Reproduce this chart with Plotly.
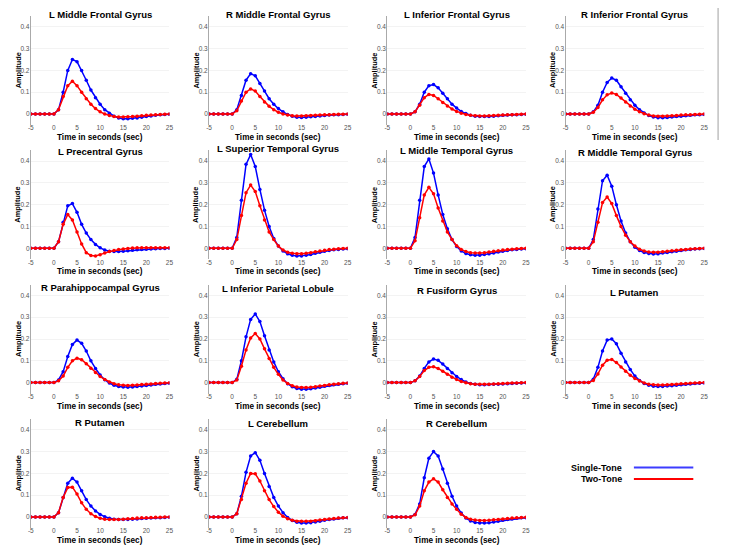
import plotly.graph_objects as go
from plotly.subplots import make_subplots

# time axis (s) and tick labels
time_sec = [-5, -4, -3, -2, -1, 0, 1, 2, 3, 4, 5, 6, 7, 8, 9, 10, 11, 12, 13, 14, 15,
            16, 17, 18, 19, 20, 21, 22, 23, 24, 25]
x_tick_vals = [-5, 0, 5, 10, 15, 20, 25]
x_tick_text = ["-5", "0", "5", "10", "15", "20", "25"]
y_tick_vals = [0, 0.1, 0.2, 0.3, 0.4]
y_tick_text = ["0", "0.1", "0.2", "0.3", "0.4"]

# estimated HRF amplitudes, single-tone vs two-tone
l_mfg_single = [0, 0, 0, 0, 0, 0, 0.02, 0.10, 0.20, 0.25, 0.24, 0.20, 0.155, 0.11, 0.075, 0.045,
                0.02, 0.003, -0.01, -0.018, -0.022, -0.022, -0.02, -0.018, -0.015, -0.012,
                -0.009, -0.006, -0.004, -0.002, -0.001]
l_mfg_two = [0, 0, 0, 0, 0, 0, 0.02, 0.08, 0.13, 0.15, 0.13, 0.10, 0.07, 0.045, 0.025, 0.01,
             0.0, -0.007, -0.012, -0.014, -0.014, -0.013, -0.012, -0.01, -0.008, -0.006,
             -0.005, -0.003, -0.002, -0.001, 0]

r_mfg_single = [0, 0, 0, 0, 0, 0, 0.02, 0.085, 0.155, 0.185, 0.175, 0.14, 0.105, 0.07, 0.045,
                0.025, 0.01, -0.002, -0.01, -0.015, -0.016, -0.015, -0.013, -0.011, -0.009,
                -0.007, -0.005, -0.004, -0.003, -0.002, -0.001]
r_mfg_two = [0, 0, 0, 0, 0, 0, 0.015, 0.06, 0.10, 0.115, 0.105, 0.08, 0.055, 0.035, 0.02,
             0.008, 0.0, -0.005, -0.008, -0.009, -0.009, -0.008, -0.007, -0.006, -0.005,
             -0.004, -0.003, -0.002, -0.001, -0.001, 0]

l_ifg_single = [0, 0, 0, 0, 0, 0, 0.01, 0.045, 0.10, 0.13, 0.135, 0.12, 0.095, 0.07, 0.045,
                0.027, 0.012, 0.002, -0.006, -0.01, -0.012, -0.012, -0.011, -0.01, -0.008,
                -0.006, -0.005, -0.004, -0.003, -0.002, -0.001]
l_ifg_two = [0, 0, 0, 0, 0, 0, 0.01, 0.04, 0.075, 0.09, 0.085, 0.07, 0.053, 0.037, 0.023,
             0.012, 0.004, -0.002, -0.006, -0.008, -0.009, -0.009, -0.008, -0.007, -0.006,
             -0.005, -0.004, -0.003, -0.002, -0.001, 0]

r_ifg_single = [0, 0, 0, 0, 0, 0, 0.01, 0.04, 0.10, 0.145, 0.165, 0.155, 0.125, 0.095, 0.065,
                0.04, 0.02, 0.005, -0.007, -0.014, -0.017, -0.017, -0.016, -0.014, -0.012,
                -0.01, -0.008, -0.006, -0.004, -0.003, -0.002]
r_ifg_two = [0, 0, 0, 0, 0, 0, 0.008, 0.03, 0.065, 0.088, 0.096, 0.09, 0.073, 0.055, 0.037,
             0.022, 0.01, 0.001, -0.005, -0.009, -0.01, -0.01, -0.009, -0.008, -0.007,
             -0.005, -0.004, -0.003, -0.002, -0.001, 0]

l_precg_single = [0, 0, 0, 0, 0, 0, 0.03, 0.12, 0.195, 0.205, 0.165, 0.11, 0.07, 0.04, 0.018,
                  0.002, -0.008, -0.013, -0.015, -0.015, -0.013, -0.011, -0.009, -0.007,
                  -0.005, -0.004, -0.003, -0.002, -0.001, -0.001, 0]
l_precg_two = [0, 0, 0, 0, 0, 0, 0.03, 0.11, 0.155, 0.13, 0.075, 0.02, -0.02, -0.033, -0.035,
               -0.03, -0.022, -0.015, -0.01, -0.006, -0.003, -0.001, 0.001, 0.002, 0.003,
               0.003, 0.003, 0.003, 0.002, 0.002, 0.002]

l_stg_single = [0, 0, 0, 0, 0, 0, 0.05, 0.22, 0.385, 0.43, 0.375, 0.27, 0.175, 0.10, 0.045,
                0.01, -0.012, -0.025, -0.032, -0.035, -0.035, -0.032, -0.028, -0.023, -0.018,
                -0.014, -0.01, -0.007, -0.005, -0.003, -0.002]
l_stg_two = [0, 0, 0, 0, 0, 0, 0.04, 0.15, 0.255, 0.29, 0.26, 0.195, 0.13, 0.075, 0.04, 0.01,
             -0.008, -0.018, -0.023, -0.025, -0.025, -0.023, -0.02, -0.016, -0.012, -0.009,
             -0.006, -0.004, -0.002, -0.001, 0]

l_mtg_single = [0, 0, 0, 0, 0, 0, 0.05, 0.22, 0.375, 0.41, 0.345, 0.245, 0.155, 0.09, 0.04,
                0.008, -0.012, -0.024, -0.03, -0.032, -0.032, -0.029, -0.025, -0.021, -0.017,
                -0.013, -0.01, -0.007, -0.005, -0.003, -0.002]
l_mtg_two = [0, 0, 0, 0, 0, 0, 0.035, 0.14, 0.245, 0.28, 0.25, 0.185, 0.125, 0.075, 0.04,
             0.012, -0.005, -0.015, -0.02, -0.022, -0.022, -0.02, -0.017, -0.014, -0.011,
             -0.008, -0.006, -0.004, -0.002, -0.001, 0]

r_mtg_single = [0, 0, 0, 0, 0, 0, 0.04, 0.18, 0.31, 0.335, 0.285, 0.20, 0.125, 0.07, 0.03,
                0.005, -0.01, -0.019, -0.024, -0.026, -0.025, -0.022, -0.019, -0.016, -0.013,
                -0.01, -0.007, -0.005, -0.003, -0.002, -0.001]
r_mtg_two = [0, 0, 0, 0, 0, 0, 0.03, 0.12, 0.21, 0.235, 0.205, 0.15, 0.10, 0.06, 0.03, 0.01,
             -0.004, -0.012, -0.017, -0.018, -0.018, -0.016, -0.014, -0.011, -0.009, -0.007,
             -0.005, -0.003, -0.002, -0.001, 0]

r_phg_single = [0, 0, 0, 0, 0, 0, 0.012, 0.05, 0.12, 0.175, 0.195, 0.18, 0.145, 0.10, 0.065,
                0.035, 0.013, -0.002, -0.012, -0.018, -0.02, -0.021, -0.02, -0.018, -0.016,
                -0.013, -0.011, -0.008, -0.006, -0.004, -0.003]
r_phg_two = [0, 0, 0, 0, 0, 0, 0.008, 0.03, 0.07, 0.10, 0.112, 0.105, 0.087, 0.066, 0.046,
             0.028, 0.014, 0.003, -0.005, -0.01, -0.012, -0.013, -0.012, -0.011, -0.009,
             -0.007, -0.006, -0.004, -0.003, -0.002, -0.001]

l_ipl_single = [0, 0, 0, 0, 0, 0, 0.015, 0.10, 0.21, 0.29, 0.315, 0.28, 0.215, 0.15, 0.095,
                0.05, 0.018, -0.005, -0.019, -0.027, -0.03, -0.03, -0.028, -0.025, -0.021,
                -0.017, -0.013, -0.01, -0.007, -0.005, -0.003]
l_ipl_two = [0, 0, 0, 0, 0, 0, 0.012, 0.075, 0.15, 0.205, 0.225, 0.20, 0.155, 0.11, 0.07,
             0.038, 0.012, -0.004, -0.014, -0.02, -0.022, -0.022, -0.021, -0.019, -0.016,
             -0.013, -0.01, -0.007, -0.005, -0.003, -0.002]

r_fg_single = [0, 0, 0, 0, 0, 0, 0.008, 0.03, 0.065, 0.095, 0.108, 0.102, 0.085, 0.065, 0.045,
               0.028, 0.014, 0.003, -0.004, -0.008, -0.01, -0.01, -0.009, -0.008, -0.007,
               -0.006, -0.005, -0.004, -0.003, -0.002, -0.001]
r_fg_two = [0, 0, 0, 0, 0, 0, 0.008, 0.028, 0.055, 0.07, 0.073, 0.065, 0.052, 0.038, 0.025,
            0.014, 0.005, -0.001, -0.005, -0.007, -0.008, -0.008, -0.007, -0.006, -0.005,
            -0.004, -0.003, -0.002, -0.002, -0.001, 0]

l_put_single = [0, 0, 0, 0, 0, 0, 0.015, 0.07, 0.145, 0.195, 0.20, 0.178, 0.135, 0.095, 0.06,
                0.03, 0.01, -0.004, -0.012, -0.017, -0.018, -0.018, -0.016, -0.014, -0.012,
                -0.01, -0.008, -0.006, -0.004, -0.003, -0.002]
l_put_two = [0, 0, 0, 0, 0, 0, 0.01, 0.04, 0.08, 0.103, 0.106, 0.092, 0.072, 0.052, 0.034,
             0.019, 0.007, -0.002, -0.007, -0.01, -0.011, -0.011, -0.01, -0.009, -0.007,
             -0.005, -0.004, -0.003, -0.002, -0.001, 0]

r_put_single = [0, 0, 0, 0, 0, 0, 0.02, 0.09, 0.155, 0.178, 0.16, 0.12, 0.08, 0.05, 0.028,
                0.012, 0.001, -0.006, -0.01, -0.012, -0.012, -0.011, -0.01, -0.009, -0.007,
                -0.006, -0.005, -0.004, -0.003, -0.002, -0.001]
r_put_two = [0, 0, 0, 0, 0, 0, 0.02, 0.09, 0.135, 0.137, 0.105, 0.065, 0.035, 0.015, 0.002,
             -0.006, -0.01, -0.012, -0.012, -0.011, -0.01, -0.008, -0.007, -0.005, -0.004,
             -0.003, -0.002, -0.001, -0.001, 0, 0]

l_cb_single = [0, 0, 0, 0, 0, 0, 0.015, 0.095, 0.205, 0.28, 0.295, 0.26, 0.20, 0.14, 0.09,
               0.05, 0.02, -0.002, -0.016, -0.024, -0.028, -0.028, -0.026, -0.023, -0.019,
               -0.015, -0.012, -0.009, -0.006, -0.004, -0.003]
l_cb_two = [0, 0, 0, 0, 0, 0, 0.015, 0.08, 0.155, 0.20, 0.198, 0.165, 0.12, 0.08, 0.048,
            0.022, 0.004, -0.008, -0.015, -0.019, -0.02, -0.02, -0.019, -0.017, -0.014,
            -0.011, -0.009, -0.007, -0.005, -0.003, -0.002]

r_cb_single = [0, 0, 0, 0, 0, 0, 0.012, 0.06, 0.18, 0.27, 0.30, 0.28, 0.22, 0.155, 0.095,
               0.05, 0.018, -0.005, -0.018, -0.025, -0.028, -0.028, -0.026, -0.023, -0.019,
               -0.015, -0.012, -0.009, -0.006, -0.004, -0.003]
r_cb_two = [0, 0, 0, 0, 0, 0, 0.01, 0.05, 0.12, 0.16, 0.175, 0.16, 0.125, 0.09, 0.06, 0.035,
            0.013, -0.002, -0.01, -0.014, -0.016, -0.016, -0.015, -0.013, -0.011, -0.009,
            -0.007, -0.005, -0.003, -0.002, -0.001]

regions = [
    ("L Middle Frontal Gyrus", l_mfg_single, l_mfg_two),
    ("R Middle Frontal Gyrus", r_mfg_single, r_mfg_two),
    ("L Inferior Frontal Gyrus", l_ifg_single, l_ifg_two),
    ("R Inferior Frontal Gyrus", r_ifg_single, r_ifg_two),
    ("L Precentral Gyrus", l_precg_single, l_precg_two),
    ("L Superior Temporal Gyrus", l_stg_single, l_stg_two),
    ("L Middle Temporal Gyrus", l_mtg_single, l_mtg_two),
    ("R Middle Temporal Gyrus", r_mtg_single, r_mtg_two),
    ("R Parahippocampal Gyrus", r_phg_single, r_phg_two),
    ("L Inferior Parietal Lobule", l_ipl_single, l_ipl_two),
    ("R Fusiform Gyrus", r_fg_single, r_fg_two),
    ("L Putamen", l_put_single, l_put_two),
    ("R Putamen", r_put_single, r_put_two),
    ("L Cerebellum", l_cb_single, l_cb_two),
    ("R Cerebellum", r_cb_single, r_cb_two),
]

# the page body has an 8px margin, so the figure is placed at (8, 8)
W, H = 729, 550
OFF = 8
FW, FH = W - OFF, H - OFF
FONT = "Liberation Sans, Arial, Helvetica, sans-serif"
BLUE = "#0000ff"
RED = "#ff0000"


def px(x):
    return (x - OFF) / FW


def py(y):
    return 1 - (y - OFF) / FH


# panel geometry in window pixels
col_left = [28, 208, 388, 568]
panel_w = 140
row_zero = [114, 248.3, 382.6, 517]
px_per_unit = 218
y_min, y_max = -0.05, 0.45
# titles are not all at the same height in the original
title_shift = [-1, -1, -1, -1, 1, -2, 0, 2, 3, 4, 6, 8, 4, 5, 5]

fig = make_subplots(rows=4, cols=4)
annotations = []
tick_font = dict(family=FONT, size=6.5, color="#555555")

for i in range(16):
    r, c = i // 4, i % 4
    left = col_left[c]
    top = row_zero[r] - y_max * px_per_unit
    bottom = row_zero[r] - y_min * px_per_unit
    xd = [px(left), px(left + panel_w)]
    yd = [py(bottom), py(top)]

    if i >= len(regions):
        fig.update_xaxes(visible=False, domain=xd, row=r + 1, col=c + 1)
        fig.update_yaxes(visible=False, domain=yd, row=r + 1, col=c + 1)
        continue

    name, single, two = regions[i]
    fig.add_trace(go.Scatter(x=time_sec, y=single, mode="lines+markers",
                             line=dict(color=BLUE, width=1.5),
                             marker=dict(color=BLUE, size=3.5),
                             showlegend=False), row=r + 1, col=c + 1)
    fig.add_trace(go.Scatter(x=time_sec, y=two, mode="lines+markers",
                             line=dict(color=RED, width=1.5),
                             marker=dict(color=RED, size=3.5),
                             showlegend=False), row=r + 1, col=c + 1)

    fig.update_xaxes(domain=xd, range=[-5, 25], tickvals=x_tick_vals, ticktext=x_tick_text,
                     showgrid=False, zeroline=False, showline=False, ticks="",
                     ticklabelstandoff=-2, tickfont=tick_font,
                     row=r + 1, col=c + 1)
    fig.update_yaxes(domain=yd, range=[y_min, y_max], tickvals=y_tick_vals, ticktext=y_tick_text,
                     showgrid=True, gridcolor="#f3f3f3", zeroline=False,
                     showline=True, linecolor="#aaaaaa", linewidth=1, ticks="",
                     ticklabelstandoff=-1, tickfont=tick_font,
                     row=r + 1, col=c + 1)

    # panel title
    annotations.append(dict(text="<b>" + name + "</b>", xref="paper", yref="paper",
                            x=px(left + panel_w / 2), y=py(top + title_shift[i]),
                            xanchor="center", yanchor="middle", showarrow=False,
                            font=dict(family=FONT, size=9.5, color="black")))
    # x axis title
    annotations.append(dict(text="<b>Time in seconds (sec)</b>", xref="paper", yref="paper",
                            x=px(left + panel_w / 2), y=py(bottom + 12.5),
                            xanchor="center", yanchor="middle", showarrow=False,
                            font=dict(family=FONT, size=8.2, color="black")))
    # y axis title
    annotations.append(dict(text="<b>Amplitude</b>", xref="paper", yref="paper",
                            x=px(left - 13), y=py(row_zero[r] - 0.2 * px_per_unit),
                            xanchor="center", yanchor="middle", textangle=-90, showarrow=False,
                            font=dict(family=FONT, size=7.4, color="black")))

# legend drawn in the empty 16th slot
legend_items = [("Single-Tone", "#3c3cff", 467.5), ("Two-Tone", RED, 479)]
shapes = []
for label, color, ypx in legend_items:
    annotations.append(dict(text="<b>" + label + "</b>", xref="paper", yref="paper",
                            x=px(627), y=py(ypx), xanchor="right", yanchor="middle",
                            showarrow=False, font=dict(family=FONT, size=9, color="black")))
    shapes.append(dict(type="line", xref="paper", yref="paper",
                       x0=px(637), x1=px(697), y0=py(ypx), y1=py(ypx),
                       line=dict(color=color, width=2)))

# thin grey rule at the right edge
shapes.append(dict(type="line", xref="paper", yref="paper",
                   x0=px(722), x1=px(722), y0=py(5), y1=py(140),
                   line=dict(color="#a0a0a0", width=1)))

fig.update_layout(width=FW, height=FH, margin=dict(l=0, r=0, t=0, b=0),
                  paper_bgcolor="white", plot_bgcolor="white",
                  annotations=annotations, shapes=shapes,
                  font=dict(family=FONT))

fig.write_html("out.html")
